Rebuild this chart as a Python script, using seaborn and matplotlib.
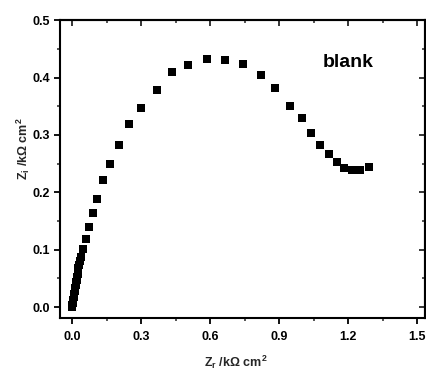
import matplotlib
matplotlib.use("Agg")
import matplotlib.pyplot as plt
import seaborn as sns
import pandas as pd
from matplotlib.ticker import MultipleLocator

sns.set_theme(style="ticks")
plt.rcParams['font.family'] = ['Liberation Sans', 'DejaVu Sans']
plt.rcParams['font.weight'] = 'bold'
plt.rcParams['mathtext.fontset'] = 'custom'
plt.rcParams['mathtext.rm'] = 'Liberation Sans:bold'
plt.rcParams['mathtext.bf'] = 'Liberation Sans:bold'
plt.rcParams['mathtext.it'] = 'Liberation Sans:bold'
plt.rcParams['mathtext.default'] = 'bf'

z_real = [0.000, 0.002, 0.004, 0.006, 0.008, 0.010, 0.012, 0.014, 0.016, 0.018,
          0.020, 0.022, 0.024, 0.026, 0.028, 0.031, 0.035, 0.040,
          0.048, 0.061, 0.074, 0.091, 0.109,
          0.135, 0.165, 0.204, 0.248, 0.300, 0.370, 0.435, 0.504, 0.587,
          0.665, 0.743, 0.822, 0.883, 0.948, 1.000, 1.039, 1.078, 1.117,
          1.152, 1.183, 1.217, 1.252, 1.291]
z_imag = [0.000, 0.004, 0.008, 0.013, 0.018, 0.023, 0.028, 0.033, 0.038, 0.043,
          0.048, 0.053, 0.058, 0.063, 0.068, 0.074, 0.080, 0.088,
          0.101, 0.118, 0.139, 0.164, 0.188,
          0.221, 0.249, 0.282, 0.319, 0.347, 0.378, 0.409, 0.422, 0.432,
          0.430, 0.423, 0.404, 0.382, 0.350, 0.329, 0.303, 0.282, 0.267,
          0.253, 0.242, 0.239, 0.239, 0.244]
x_ticks = [0.0, 0.3, 0.6, 0.9, 1.2, 1.5]
y_ticks = [0.0, 0.1, 0.2, 0.3, 0.4, 0.5]

df = pd.DataFrame({"Zr": z_real, "Zi": z_imag})

fig = plt.figure(figsize=(4.26, 3.72), dpi=100)
ax = fig.add_axes([0.141, 0.145, 0.857, 0.801])
sns.scatterplot(data=df, x="Zr", y="Zi", marker="s", s=32, color="black",
                edgecolor="black", linewidth=0, ax=ax)

ax.set_xlim(-0.052, 1.535)
ax.set_ylim(-0.019, 0.5)
ax.set_xticks(x_ticks)
ax.set_xticklabels([f"{v:.1f}" for v in x_ticks])
ax.set_yticks(y_ticks)
ax.set_yticklabels([f"{v:.1f}" for v in y_ticks])
ax.xaxis.set_minor_locator(MultipleLocator(0.15))
ax.yaxis.set_minor_locator(MultipleLocator(0.05))

for s in ax.spines.values():
    s.set_visible(True)
    s.set_linewidth(1.5)
    s.set_color("black")
ax.tick_params(axis="both", which="major", length=4, width=1.3, labelsize=9,
               colors="black", direction="out")
ax.tick_params(axis="x", which="major", pad=5)
ax.tick_params(axis="y", which="major", pad=3)
ax.tick_params(axis="both", which="minor", length=2.5, width=1.1, direction="out")
for lab in ax.get_xticklabels() + ax.get_yticklabels():
    lab.set_fontweight("bold")

secx = ax.secondary_xaxis("top")
secx.set_xticks(x_ticks)
secx.xaxis.set_minor_locator(MultipleLocator(0.15))
secx.tick_params(which="major", direction="in", length=4, width=1.3, labeltop=False)
secx.tick_params(which="minor", direction="in", length=2.5, width=1.1)
secx.spines["top"].set_linewidth(1.5)
secy = ax.secondary_yaxis("right")
secy.set_yticks(y_ticks)
secy.yaxis.set_minor_locator(MultipleLocator(0.05))
secy.tick_params(which="major", direction="in", length=4, width=1.3, labelright=False)
secy.tick_params(which="minor", direction="in", length=2.5, width=1.1)
secy.spines["right"].set_linewidth(1.5)

ax.set_xlabel(r"Z$_\mathbf{r}$ /k$\Omega$ cm$^\mathbf{2}$", fontsize=9,
              fontweight="bold")
ax.set_ylabel(r"Z$_\mathbf{i}$ /k$\Omega$ cm$^\mathbf{2}$", fontsize=9,
              fontweight="bold")
ax.xaxis.set_label_coords(0.482, -0.148)
ax.yaxis.set_label_coords(-0.101, 0.57)
ax.xaxis.label.set_va("center")
ax.yaxis.label.set_va("center")

ax.text(1.20, 0.426, "blank", fontsize=14, fontweight="bold", ha="center",
        va="center", color="black")

fig.savefig("out.png", dpi=100)
